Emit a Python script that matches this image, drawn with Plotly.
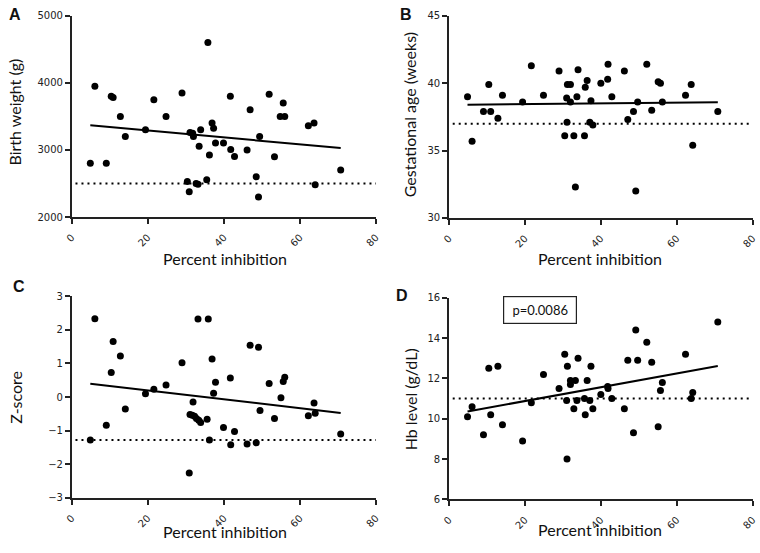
import numpy as np
import plotly.graph_objects as go

# ---------------- data ----------------
x_a = [4.9, 6.1, 9.1, 10.4, 10.9, 12.8, 14.1, 19.4, 21.6, 24.8, 29.0, 30.4, 30.9, 31.1, 31.8, 32.0,
       32.7, 33.2, 33.5, 33.9, 35.5, 35.8, 36.2, 36.9, 37.3, 37.8, 39.9, 41.7, 41.8, 42.8, 46.1,
       46.9, 48.5, 49.1, 49.4, 51.9, 53.3, 54.8, 55.6, 56.0, 62.2, 63.7, 64.0, 70.7]
y_a = [2800, 3950, 2800, 3800, 3780, 3500, 3200, 3300, 3750, 3500, 3850, 2530, 2375, 3260, 3250, 3200,
       2500, 2487, 3056, 3300, 2554, 4600, 2925, 3400, 3323, 3104, 3104, 3800, 3006, 2904, 3000,
       3600, 2600, 2300, 3200, 3830, 2900, 3500, 3700, 3500, 3360, 3400, 2480, 2700]

x_b = [4.9, 6.1, 9.1, 10.5, 11.0, 12.9, 14.1, 19.4, 21.7, 24.9, 29.0, 30.5, 31.0, 31.1, 31.2, 32.0,
       32.0, 32.9, 33.3, 33.7, 34.0, 35.7, 35.9, 36.4, 37.1, 37.4, 37.9, 40.0, 41.8, 41.9, 42.9,
       46.2, 47.1, 48.6, 49.2, 49.7, 52.1, 53.4, 55.1, 55.7, 56.2, 62.3, 63.8, 64.2, 70.8]
y_b = [39.0, 35.7, 37.9, 39.9, 37.9, 37.4, 39.1, 38.6, 41.3, 39.1, 40.9, 36.1, 38.9, 37.1, 39.9, 39.9,
       38.6, 36.1, 32.3, 39.0, 41.0, 36.1, 39.7, 40.2, 37.1, 38.7, 36.9, 40.0, 40.3, 41.4, 39.0,
       40.9, 37.3, 37.9, 32.0, 38.6, 41.4, 38.0, 40.1, 40.0, 38.6, 39.1, 39.9, 35.4, 37.9]

x_c = [4.9, 6.1, 9.1, 10.4, 10.9, 12.8, 14.1, 19.4, 21.6, 24.8, 29.0, 30.9, 31.1, 31.7, 31.9, 32.3,
       32.8, 33.2, 33.4, 33.9, 35.6, 35.9, 36.2, 36.9, 37.3, 37.8, 39.9, 41.7, 41.8, 42.8, 46.1,
       46.9, 48.5, 49.1, 49.5, 51.9, 53.3, 55.0, 55.6, 56.0, 62.2, 63.7, 64.0, 70.7]
y_c = [-1.28, 2.33, -0.84, 0.73, 1.65, 1.22, -0.36, 0.10, 0.23, 0.36, 1.02, -2.26, -0.52, -0.54, -0.15, -0.57,
       -0.64, 2.32, -0.69, -0.76, -0.66, 2.32, -1.28, 1.13, 0.11, 0.44, -0.91, 0.57, -1.42, -1.03, -1.40,
       1.54, -1.36, 1.48, -0.40, 0.40, -0.64, -0.02, 0.46, 0.59, -0.56, -0.18, -0.48, -1.10]

x_d = [4.9, 6.1, 9.1, 10.5, 11.0, 12.9, 14.1, 19.4, 21.7, 24.9, 29.0, 30.5, 31.0, 31.1, 31.2, 32.0,
       32.0, 32.9, 33.3, 33.7, 34.0, 35.7, 35.9, 36.4, 37.1, 37.4, 37.9, 40.0, 41.8, 41.9, 42.9,
       46.2, 47.1, 48.6, 49.2, 49.7, 52.1, 53.4, 55.1, 55.7, 56.2, 62.3, 63.8, 64.2, 70.8]
y_d = [10.1, 10.6, 9.2, 12.5, 10.2, 12.6, 9.7, 8.9, 10.8, 12.2, 11.5, 13.2, 10.9, 8.0, 12.6, 11.9,
       11.7, 10.5, 11.9, 10.9, 13.0, 11.0, 10.2, 11.9, 10.9, 12.6, 10.5, 11.2, 11.6, 11.5, 11.0,
       10.5, 12.9, 9.3, 14.4, 12.9, 13.8, 12.8, 9.6, 11.4, 11.8, 13.2, 11.0, 11.3, 14.8]

ref_a, ref_b, ref_c, ref_d = 2500, 37, -1.28, 11
x_ticks = [0, 20, 40, 60, 80]
x_title = "Percent inhibition"
y_titles = ["Birth weight (g)", "Gestational age (weeks)", "Z-score", "Hb level (g/dL)"]
panel_letters = ["A", "B", "C", "D"]
p_text = "p=0.0086"

panels = [
    (x_a, y_a, ref_a, [2000, 5000], [2000, 3000, 4000, 5000]),
    (x_b, y_b, ref_b, [30, 45], [30, 35, 40, 45]),
    (x_c, y_c, ref_c, [-3, 3], [-3, -2, -1, 0, 1, 2, 3]),
    (x_d, y_d, ref_d, [6, 16], [6, 8, 10, 12, 14, 16]),
]

# ---------------- layout geometry (pixels) ----------------
W, H = 760, 553
xpix = [(65.7, 375.0), (449.0, 757.7), (65.7, 375.0), (449.0, 757.7)]
ypix = [(10.0, 215.7), (10.0, 216.7), (296.7, 502.7), (298.3, 504.3)]

fig = go.Figure()
layout = dict(width=W, height=H, margin=dict(l=0, r=0, t=0, b=0),
              plot_bgcolor="white", paper_bgcolor="white", showlegend=False)

tickfont = dict(family="DejaVu Sans", size=10, color="#222")
annotations = []
for i, (xs, ys, ref, yr, yt) in enumerate(panels):
    n = "" if i == 0 else str(i + 1)
    xa, ya = "x" + n, "y" + n
    xs_arr, ys_arr = np.array(xs), np.array(ys)
    fig.add_trace(go.Scatter(x=xs, y=ys, mode="markers", xaxis=xa, yaxis=ya,
                             marker=dict(size=7, color="black"), cliponaxis=False))
    slope, icpt = np.polyfit(xs_arr, ys_arr, 1)
    lx = np.array([xs_arr.min(), xs_arr.max()])
    fig.add_trace(go.Scatter(x=lx, y=slope * lx + icpt, mode="lines", xaxis=xa, yaxis=ya,
                             line=dict(color="black", width=2)))
    fig.add_trace(go.Scatter(x=[1, 80], y=[ref, ref], mode="lines", xaxis=xa, yaxis=ya,
                             line=dict(color="black", width=2, dash="2px,4px")))
    x0, x1 = xpix[i]
    y0, y1 = ypix[i]
    layout["xaxis" + n] = dict(domain=[x0 / W, x1 / W], range=[0, 80], tickvals=x_ticks,
                               anchor=ya, showline=True, linecolor="#222", linewidth=1.5,
                               ticks="outside", ticklen=5, tickwidth=1.5, tickcolor="#222",
                               tickangle=-45, tickfont=tickfont, showgrid=False, zeroline=False,
                               ticklabelstandoff=4)
    layout["yaxis" + n] = dict(domain=[1 - y1 / H, 1 - y0 / H], range=yr, tickvals=yt,
                               anchor=xa, showline=True, linecolor="#222", linewidth=1.5,
                               ticks="outside", ticklen=5, tickwidth=1.5, tickcolor="#222",
                               tickfont=tickfont, showgrid=False, zeroline=False)

# axis titles and panel letters
title_font = dict(family="Lato", size=16, color="#111")
xt_pos = [(221.7, 258), (603, 258), (221.7, 536.7), (603, 535)]
yt_pos = [(8, 108), (409.3, 110.8), (9.3, 400.4), (410, 402.5)]
letter_pos = [(8.3, 8.7), (405.7, 8.3), (12, 286.7), (401.7, 295.7)]
for i in range(4):
    annotations.append(dict(text=x_title, x=xt_pos[i][0] / W, y=1 - xt_pos[i][1] / H,
                            xref="paper", yref="paper", showarrow=False, font=title_font,
                            xanchor="center", yanchor="middle"))
    annotations.append(dict(text=y_titles[i], x=yt_pos[i][0] / W, y=1 - yt_pos[i][1] / H,
                            xref="paper", yref="paper", showarrow=False, font=title_font,
                            textangle=-90, xanchor="center", yanchor="middle"))
    annotations.append(dict(text="<b>" + panel_letters[i] + "</b>", x=letter_pos[i][0] / W,
                            y=1 - letter_pos[i][1] / H, xref="paper", yref="paper",
                            showarrow=False, font=dict(family="Liberation Sans", size=16, color="#111"),
                            xanchor="center", yanchor="middle"))
annotations.append(dict(text=p_text, x=542 / W, y=1 - 311 / H, xref="paper", yref="paper",
                        showarrow=False, font=dict(family="Lato", size=13, color="#111"),
                        bordercolor="#222", borderwidth=1.2, borderpad=5,
                        width=62, height=16, xanchor="center", yanchor="middle"))
layout["annotations"] = annotations
fig.update_layout(**layout)
fig.write_html("out.html", config={"displayModeBar": False},
               post_script="document.body.style.margin='0';document.body.style.padding='0';")
